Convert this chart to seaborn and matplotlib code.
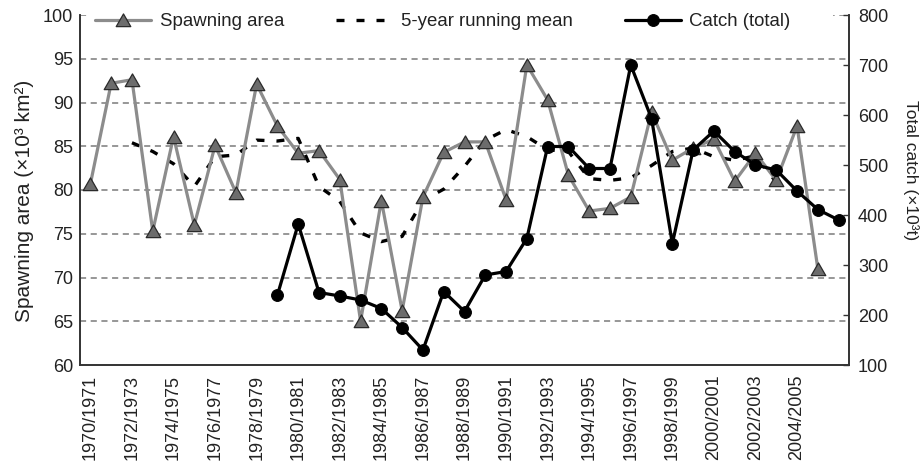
import numpy as np
import pandas as pd
import matplotlib
matplotlib.use("Agg")
import matplotlib.pyplot as plt
from matplotlib.path import Path
from matplotlib.patches import Rectangle
from matplotlib.ticker import FixedLocator, NullFormatter
import seaborn as sns

# Fishing seasons (category axis)
seasons = [
    "1970/1971", "1971/1972", "1972/1973", "1973/1974", "1974/1975", "1975/1976",
    "1976/1977", "1977/1978", "1978/1979", "1979/1980", "1980/1981", "1981/1982",
    "1982/1983", "1983/1984", "1984/1985", "1985/1986", "1986/1987", "1987/1988",
    "1988/1989", "1989/1990", "1990/1991", "1991/1992", "1992/1993", "1993/1994",
    "1994/1995", "1995/1996", "1996/1997", "1997/1998", "1998/1999", "1999/2000",
    "2000/2001", "2001/2002", "2002/2003", "2003/2004", "2004/2005", "2005/2006",
    "2006/2007",
]

# Spawning area (x10^3 km^2), 1970/1971 - 2005/2006
spawning_area = [
    80.7, 92.2, 92.6, 75.3, 86.1, 76.0, 85.1, 79.7, 92.1, 87.3,
    84.2, 84.5, 81.2, 65.0, 78.8, 66.2, 79.2, 84.3, 85.5, 85.5,
    78.9, 94.3, 90.3, 81.7, 77.6, 77.9, 79.2, 88.9, 83.4, 84.8,
    85.8, 81.0, 84.2, 81.1, 87.3, 71.0,
]

# 5-year running mean of spawning area, 1972/1973 - 2003/2004
running_mean = [
    85.4, 84.4, 83.0, 80.4, 83.8, 84.0, 85.7, 85.6, 85.9, 80.4,
    78.7, 75.1, 74.1, 74.7, 78.8, 80.1, 82.7, 85.7, 86.9, 86.1,
    84.6, 84.4, 81.3, 81.1, 81.4, 82.8, 84.4, 84.8, 83.8, 83.4,
    83.9, 80.9,
]

# Total catch (x10^3 t), 1979/1980 - 2006/2007
catch_total = [
    240, 382, 245, 238, 230, 213, 175, 130, 247, 207,
    280, 287, 353, 537, 537, 493, 493, 700, 593, 343,
    530, 568, 527, 500, 490, 448, 411, 390,
]

left_ticks = [60, 65, 70, 75, 80, 85, 90, 95, 100]
right_ticks = [100, 200, 300, 400, 500, 600, 700, 800]

pos = {s: i for i, s in enumerate(seasons)}
df_area = pd.DataFrame({"season": seasons[:len(spawning_area)], "value": spawning_area})
df_mean = pd.DataFrame({"season": seasons[2:2 + len(running_mean)], "value": running_mean})
df_catch = pd.DataFrame({"season": seasons[9:9 + len(catch_total)], "value": catch_total})
for d in (df_area, df_mean, df_catch):
    d["x"] = d["season"].map(pos)

sns.set_style("white")
plt.rcParams["font.family"] = ["Liberation Sans", "DejaVu Sans"]
plt.rcParams["axes.unicode_minus"] = False

fig = plt.figure(figsize=(9.22, 4.67), dpi=100)
ax = fig.add_axes([80 / 922, 1 - 365 / 467, 769 / 922, 350 / 467])
ax2 = ax.twinx()

tri = Path([(0, 0.45), (-0.5, -0.42), (0.5, -0.42), (0, 0.45)],
           [Path.MOVETO, Path.LINETO, Path.LINETO, Path.CLOSEPOLY])

sns.lineplot(data=df_mean, x="x", y="value", ax=ax, color="black", lw=2.4,
             linestyle=(0, (2.4, 3.6)), errorbar=None, label="5-year running mean",
             zorder=3)
sns.lineplot(data=df_area, x="x", y="value", ax=ax, color="#8c8c8c", lw=2.3,
             marker=tri, markersize=10.5, markerfacecolor="#6c6c6c",
             markeredgecolor="#2a2a2a", markeredgewidth=0.9, errorbar=None,
             label="Spawning area", zorder=4)
sns.lineplot(data=df_catch, x="x", y="value", ax=ax2, color="black", lw=2.3,
             marker="o", markersize=8.5, markerfacecolor="black",
             markeredgecolor="black", errorbar=None, label="Catch (total)",
             zorder=5)

n = len(seasons)
for a in (ax, ax2):
    a.set_xlim(-0.5, n - 0.5)
    a.set_xlabel("")
    a.set_ylabel("")
    a.patch.set_visible(False)
ax.set_ylim(60, 100)
ax2.set_ylim(100, 800)
ax.set_yticks(left_ticks)
ax2.set_yticks(right_ticks)

# horizontal dashed grid from the left scale
for v in left_ticks[1:]:
    ax.axhline(v, color="#7a7a7a", lw=1.1, linestyle=(0, (4.0, 3.0)), zorder=1)

# category labels every second season, tick marks on category boundaries
label_pos = list(range(0, 35, 2))
ax.xaxis.set_major_locator(FixedLocator(label_pos))
ax.set_xticklabels([seasons[i] for i in label_pos], rotation=90)
ax.xaxis.set_minor_locator(FixedLocator(np.arange(0.5, n - 1, 1.0)))
ax.xaxis.set_minor_formatter(NullFormatter())
ax.tick_params(axis="x", which="major", length=0, pad=7, labelsize=13, colors="#222222")
ax.tick_params(axis="x", which="minor", direction="in", length=5, width=1.0, color="#333333")
ax.tick_params(axis="y", length=0, pad=5, labelsize=13, colors="#222222")
ax2.tick_params(axis="y", direction="in", length=4, width=1.0, pad=6.5,
                labelsize=13, colors="#222222")
ax2.tick_params(axis="y", color="#333333")
ax2.tick_params(axis="x", bottom=False, labelbottom=False)

for a in (ax, ax2):
    a.spines["top"].set_visible(False)
    for s in ("left", "right", "bottom"):
        a.spines[s].set_color("#333333")
        a.spines[s].set_linewidth(1.2)

for a in (ax, ax2):
    lg = a.get_legend()
    if lg is not None:
        lg.remove()

# white band behind the legend row
ax2.add_patch(Rectangle((91 / 922, 1 - 33 / 467), (833 - 91) / 922, 24 / 467,
                        transform=fig.transFigure, facecolor="white",
                        edgecolor="none", zorder=9, clip_on=False))

h1, l1 = ax.get_legend_handles_labels()
h2, l2 = ax2.get_legend_handles_labels()
hmap = dict(zip(l1 + l2, h1 + h2))
order = ["Spawning area", "5-year running mean", "Catch (total)"]
leg = ax2.legend([hmap[k] for k in order], order, loc="center",
                 bbox_to_anchor=(443 / 922, 1 - 21.7 / 467),
                 bbox_transform=fig.transFigure, ncol=3, fontsize=13.4,
                 frameon=True, facecolor="white", edgecolor="none", framealpha=1,
                 fancybox=False, handlelength=3.0, handletextpad=0.47,
                 columnspacing=2.8, borderpad=0.3, borderaxespad=0)
leg.set_zorder(10)
for t in leg.get_texts():
    t.set_color("#222222")

fig.text(25 / 922, 1 - 201 / 467, "Spawning area (×10³ km²)", rotation=90,
         ha="center", va="center", fontsize=15, color="#222222")
fig.text(911 / 922, 1 - 170 / 467, "Total catch (×10³t)", rotation=270,
         ha="center", va="center", fontsize=12.5, color="#222222")

fig.savefig("out.png", dpi=100)
